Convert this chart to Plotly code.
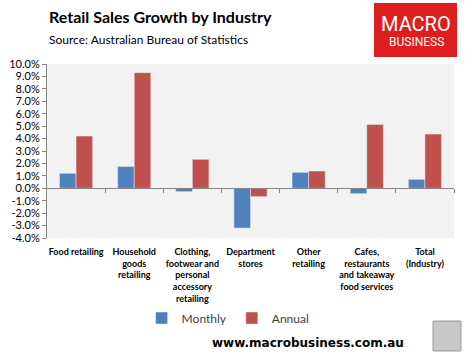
import plotly.graph_objects as go

categories = [
    "Food retailing",
    "Household<br>goods<br>retailing",
    "Clothing,<br>footwear and<br>personal<br>accessory<br>retailing",
    "Department<br>stores",
    "Other<br>retailing",
    "Cafes,<br>restaurants<br>and takeaway<br>food services",
    "Total<br>(Industry)",
]
monthly = [1.2, 1.75, -0.27, -3.2, 1.28, -0.43, 0.72]
annual = [4.2, 9.3, 2.33, -0.67, 1.39, 5.13, 4.36]
y_ticks = list(range(-4, 11))

BLUE = "#4F81BD"
RED = "#C0504D"
FONT = "Lato"

fig = go.Figure()
fig.add_trace(go.Bar(name="Monthly", x=categories, y=monthly, marker_color=BLUE))
fig.add_trace(go.Bar(name="Annual", x=categories, y=annual, marker_color=RED))
# helper trace so the zero-line tick axis is drawn
fig.add_trace(go.Scatter(x=[None], y=[None], xaxis="x2", yaxis="y", showlegend=False, hoverinfo="skip"))

fig.update_layout(
    width=473, height=362,
    margin=dict(l=47, r=19, t=64, b=124, autoexpand=False),
    paper_bgcolor="white",
    plot_bgcolor="#F2F2F2",
    barmode="group",
    bargap=0.43,
    bargroupgap=0,
    font=dict(family=FONT, color="black"),
    showlegend=True,
    legend=dict(
        orientation="h", x=0.445, xanchor="center", y=-0.46, yanchor="middle",
        font=dict(size=12, family=FONT, color="#404040"),
        itemwidth=30, tracegroupgap=0, bgcolor="rgba(0,0,0,0)",
    ),
    xaxis=dict(
        type="category", showline=False, showgrid=False, ticks="",
        tickfont=dict(size=9, family=FONT, color="black", weight="bold"),
        ticklabelstandoff=7,
        range=[-0.5, 6.5], fixedrange=True, automargin=False,
    ),
    xaxis2=dict(
        overlaying="x", anchor="free", position=4 / 14,
        range=[-0.5, 6.5], showgrid=False, zeroline=False,
        showline=True, linecolor="#868686", linewidth=1,
        ticks="outside", ticklen=4, tickcolor="#868686",
        tickvals=[0.5, 1.5, 2.5, 3.5, 4.5, 5.5, 6.5],
        showticklabels=False, automargin=False,
    ),
    yaxis=dict(
        range=[-4, 10], tickvals=y_ticks,
        ticktext=[f"{v:.1f}%" for v in y_ticks],
        showgrid=False, zeroline=False, automargin=False,
        showline=True, linecolor="#868686", linewidth=1,
        ticks="outside", ticklen=4, tickcolor="#868686",
        tickfont=dict(size=11, family=FONT, color="black"),
    ),
)

# Title & subtitle
fig.add_annotation(text="<b>Retail Sales Growth by Industry</b>", xref="paper", yref="paper",
                   x=0, y=1, xanchor="left", yanchor="middle", yshift=(64 - 16),
                   showarrow=False, font=dict(size=16, family=FONT, color="black"))
fig.add_annotation(text="Source: Australian Bureau of Statistics", xref="paper", yref="paper",
                   x=0, y=1, xanchor="left", yanchor="middle", yshift=(64 - 39),
                   showarrow=False, font=dict(size=12, family=FONT, color="black"))

# Logo box
fig.add_shape(type="rect", xref="paper", yref="paper",
              x0=(374 - 47) / 407, x1=(457 - 47) / 407,
              y0=1 + (64 - 57) / 174, y1=1 + (64 - 3) / 174,
              fillcolor="#DD1E1E", line=dict(width=0), layer="above")
fig.add_annotation(text="MACRO", xref="paper", yref="paper",
                   x=(416 - 47) / 407, y=1 + (64 - 24) / 174, xanchor="center", yanchor="middle",
                   showarrow=False, font=dict(size=20, family="Roboto", color="white"))
fig.add_annotation(text="BUSINESS", xref="paper", yref="paper",
                   x=(416 - 47) / 407, y=1 + (64 - 42) / 174, xanchor="center", yanchor="middle",
                   showarrow=False, font=dict(size=12, family="Roboto", color="white"))

# Website
fig.add_annotation(text="<b>www.macrobusiness.com.au</b>", xref="paper", yref="paper",
                   x=(308 - 47) / 407, y=(238 - 343) / 174, xanchor="center", yanchor="middle",
                   showarrow=False, font=dict(size=12, family="DejaVu Sans", color="black"))

# Wolf image placeholder
fig.add_shape(type="rect", xref="paper", yref="paper",
              x0=(433 - 47) / 407, x1=(461 - 47) / 407,
              y0=(238 - 351) / 174, y1=(238 - 321) / 174,
              fillcolor="#C8C8C8", line=dict(color="#999", width=1), layer="above")

fig.write_html(
    "out.html",
    config={"displayModeBar": False},
    post_script="document.body.style.margin='0';document.body.style.overflow='hidden';",
)
